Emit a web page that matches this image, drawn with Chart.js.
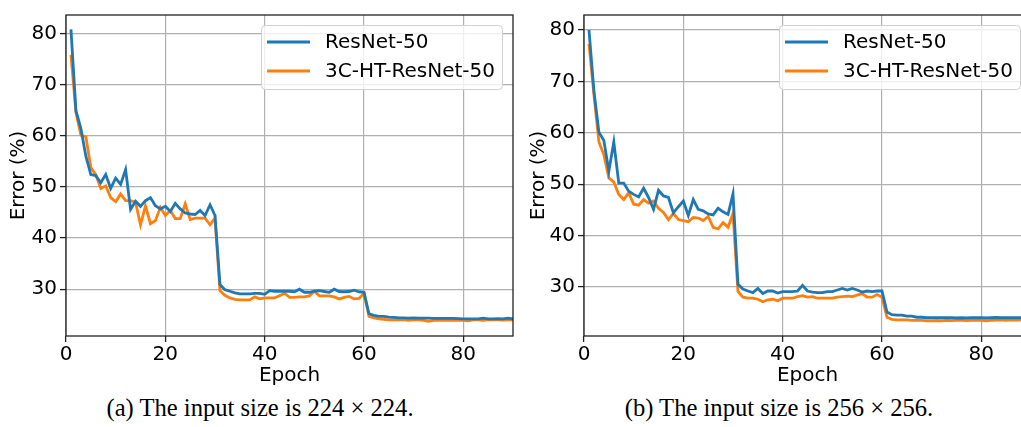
<!DOCTYPE html>
<html>
<head>
<meta charset="utf-8">
<script src="https://cdn.jsdelivr.net/npm/chart.js@4.4.1/dist/chart.umd.min.js"></script>
<style>
  html, body { margin: 0; padding: 0; background: #fff; width: 1021px; height: 427px; overflow: hidden; position: relative; }
  canvas { position: absolute; top: 0; }
  #cA { left: 0; }
  #cB { left: 520px; }
  .cap { position: absolute; top: 394px; font-family: "Liberation Serif", "Times New Roman", serif; font-size: 24.6px; color: #000; white-space: nowrap; transform: translateX(-50%); }
</style>
</head>
<body>
<canvas id="cA" width="520" height="390"></canvas>
<canvas id="cB" width="520" height="390"></canvas>
<div class="cap" style="left:260px">(a) The input size is 224 × 224.</div>
<div class="cap" style="left:779px">(b) The input size is 256 × 256.</div>
<script>
// ---- data ----
const epochs = Array.from({ length: 90 }, (_, i) => i + 1);
const seriesNames = ["ResNet-50", "3C-HT-ResNet-50"];
const xTicks = [0, 20, 40, 60, 80];
const yTicks = [30, 40, 50, 60, 70, 80];

const resnet224 = [
  80.8, 64.9, 61.4, 56.0, 52.4, 52.2, 50.8, 52.4, 49.7, 51.7,
  50.5, 53.4, 45.6, 47.2, 46.2, 47.3, 47.9, 46.3, 45.7, 46.2,
  45.2, 46.8, 45.7, 44.9, 44.7, 44.6, 45.4, 44.4, 46.5, 44.4,
  30.9, 29.9, 29.6, 29.3, 29.1, 29.1, 29.1, 29.2, 29.2, 29.0,
  29.7, 29.6, 29.6, 29.6, 29.6, 29.5, 30.0, 29.4, 29.4, 29.6,
  29.7, 29.55, 29.4, 30.0, 29.55, 29.5, 29.55, 29.8, 29.5, 29.4,
  25.2, 24.9, 24.7, 24.7, 24.55, 24.5, 24.4, 24.4, 24.35, 24.4,
  24.35, 24.35, 24.35, 24.3, 24.3, 24.3, 24.3, 24.3, 24.25, 24.2,
  24.2, 24.2, 24.2, 24.35, 24.2, 24.2, 24.25, 24.2, 24.35, 24.2
];
const ht224 = [
  75.8, 64.6, 60.1, 59.8, 53.8, 52.4, 49.7, 50.2, 47.9, 47.1,
  48.6, 47.3, 47.3, 47.0, 42.6, 46.3, 42.8, 43.4, 46.0, 44.4,
  45.4, 43.8, 43.8, 46.7, 43.6, 43.9, 43.9, 43.9, 42.6, 43.9,
  29.7, 28.8, 28.3, 28.0, 27.9, 27.9, 27.9, 28.5, 28.1, 28.3,
  28.3, 28.3, 28.7, 29.2, 28.4, 28.4, 28.5, 28.5, 28.7, 29.6,
  28.7, 28.7, 28.7, 28.5, 28.1, 28.4, 28.6, 28.1, 28.2, 29.2,
  24.7, 24.4, 24.2, 24.1, 24.0, 24.0, 24.0, 24.05, 23.9, 24.0,
  24.0, 23.9, 23.7, 23.9, 23.9, 23.9, 23.9, 23.9, 23.9, 23.9,
  23.8, 24.0, 24.0, 23.9, 24.05, 24.0, 24.0, 23.95, 24.0, 24.0
];
const resnet256 = [
  80.0, 68.1, 60.1, 58.5, 52.5, 58.2, 50.2, 50.2, 48.6, 48.0,
  47.5, 49.2, 47.4, 45.1, 48.8, 47.7, 47.4, 44.4, 45.6, 46.7,
  43.9, 47.0, 45.1, 44.8, 44.2, 44.0, 45.3, 44.6, 44.1, 48.1,
  30.5, 29.6, 29.2, 28.9, 29.7, 28.7, 29.2, 29.2, 28.8, 29.1,
  29.1, 29.1, 29.2, 30.3, 29.2, 29.0, 28.9, 28.9, 29.1, 29.1,
  29.4, 29.7, 29.4, 29.7, 29.4, 29.0, 29.2, 29.1, 29.2, 29.2,
  25.1, 24.6, 24.5, 24.5, 24.3, 24.3, 24.1, 24.1, 24.0, 24.0,
  24.0, 24.0, 24.0, 24.0, 23.95, 24.0, 23.95, 24.0, 24.0, 24.0,
  23.95, 24.0, 24.05, 24.0, 24.0, 24.0, 24.0, 24.0, 24.0, 24.0
];
const ht256 = [
  77.3, 67.4, 58.2, 55.7, 51.2, 50.4, 48.0, 47.0, 48.3, 46.1,
  45.9, 47.0, 46.3, 46.7, 45.3, 44.5, 43.1, 44.3, 43.1, 42.9,
  42.7, 43.5, 43.4, 42.9, 43.7, 41.6, 41.3, 42.5, 41.6, 44.3,
  29.1, 28.0, 27.8, 27.8, 27.6, 27.1, 27.5, 27.6, 27.3, 27.8,
  27.8, 27.8, 28.1, 28.3, 28.0, 28.1, 27.8, 27.8, 27.8, 27.8,
  28.0, 28.1, 28.2, 28.1, 28.4, 28.7, 28.0, 28.0, 28.5, 28.0,
  24.1, 23.7, 23.6, 23.6, 23.6, 23.5, 23.5, 23.5, 23.4, 23.4,
  23.45, 23.4, 23.5, 23.45, 23.5, 23.5, 23.45, 23.5, 23.5, 23.5,
  23.4, 23.5, 23.55, 23.6, 23.5, 23.6, 23.55, 23.6, 23.6, 23.6
];

// ---- styling ----
const FONT = "'DejaVu Sans', 'Liberation Sans', sans-serif";
const FS = 20;
const BLUE = "#1f77b4";
const ORANGE = "#ff7f0e";
Chart.defaults.font.family = FONT;
Chart.defaults.font.size = FS;
Chart.defaults.color = "#000";

const framePlugin = {
  id: "frame",
  afterDatasetsDraw(chart) {
    const { ctx, chartArea: a } = chart;
    ctx.save();
    ctx.strokeStyle = "#222";
    ctx.lineWidth = 1.3;
    ctx.strokeRect(a.left, a.top, a.right - a.left, a.bottom - a.top);
    ctx.restore();
  }
};

const legendPlugin = {
  id: "mplLegend",
  afterDraw(chart) {
    const { ctx, chartArea: a } = chart;
    const w = 241, h = 64;
    const x = a.right - 11 - w, y = a.top + 10;
    ctx.save();
    ctx.beginPath();
    if (ctx.roundRect) ctx.roundRect(x + 0.5, y + 0.5, w, h, 4); else ctx.rect(x + 0.5, y + 0.5, w, h);
    ctx.fillStyle = "rgba(255,255,255,0.8)";
    ctx.fill();
    ctx.strokeStyle = "#d0d0d0";
    ctx.lineWidth = 1;
    ctx.stroke();
    ctx.font = FS + "px " + FONT;
    ctx.textBaseline = "middle";
    ctx.textAlign = "left";
    chart.data.datasets.forEach((ds, i) => {
      const ry = y + 17 + i * 29;
      ctx.strokeStyle = ds.borderColor;
      ctx.lineWidth = ds.borderWidth;
      ctx.beginPath();
      ctx.moveTo(x + 6, ry);
      ctx.lineTo(x + 49, ry);
      ctx.stroke();
      ctx.fillStyle = "#000";
      ctx.fillText(ds.label, x + 64, ry + 1);
    });
    ctx.restore();
  }
};

function makeChart(id, a, b, yMin, yMax, yWidth, padRight) {
  const toXY = arr => epochs.map((e, i) => ({ x: e, y: arr[i] }));
  return new Chart(document.getElementById(id), {
    type: "line",
    data: {
      datasets: [
        { label: seriesNames[0], data: toXY(a), borderColor: BLUE, backgroundColor: BLUE, borderWidth: 2.8, pointRadius: 0, tension: 0 },
        { label: seriesNames[1], data: toXY(b), borderColor: ORANGE, backgroundColor: ORANGE, borderWidth: 2.8, pointRadius: 0, tension: 0 }
      ]
    },
    options: {
      responsive: false,
      animation: false,
      layout: { padding: { left: 0, right: padRight, top: 10, bottom: 0 } },
      plugins: { legend: { display: false }, tooltip: { enabled: false } },
      scales: {
        x: {
          type: "linear", min: 0, max: 90,
          afterBuildTicks: s => { s.ticks = xTicks.map(v => ({ value: v })); },
          afterFit: s => { s.height = 54; },
          ticks: { padding: 1, maxRotation: 0, font: { size: FS } },
          grid: { color: "#b0b0b0", lineWidth: 1.2, tickLength: 6, tickColor: "#222", tickWidth: 1.3 },
          border: { display: false },
          title: { display: true, text: "Epoch", font: { size: FS }, padding: { top: 0, bottom: 2 } }
        },
        y: {
          type: "linear", min: yMin, max: yMax,
          afterBuildTicks: s => { s.ticks = yTicks.map(v => ({ value: v })); },
          afterFit: s => { s.width = yWidth; },
          ticks: { padding: 3, font: { size: FS } },
          grid: { color: "#b0b0b0", lineWidth: 1.2, tickLength: 6, tickColor: "#222", tickWidth: 1.3 },
          border: { display: false },
          title: { display: true, text: "Error (%)", font: { size: FS }, padding: { top: 7, bottom: 0 } }
        }
      }
    },
    plugins: [framePlugin, legendPlugin]
  });
}

makeChart("cA", resnet224, ht224, 20.85, 83.6, 66, 7);
makeChart("cB", resnet256, ht256, 20.45, 82.9, 64, 9);
</script>
</body>
</html>
